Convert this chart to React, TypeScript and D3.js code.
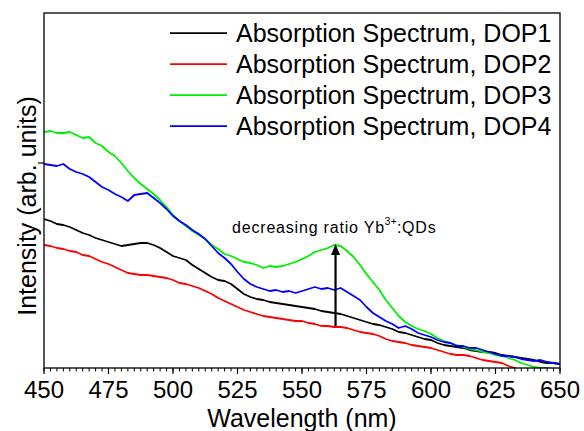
import React from "react";
import * as d3 from "d3";

// ---------- data ----------
const WAVELENGTHS: number[] = d3.range(0, 81).map((i) => 450 + i * 2.5);

const DOP1: number[] = [
  149, 147, 144, 143, 141, 138, 135, 133, 130, 128, 126, 124, 122, 123, 124, 125, 125, 123, 120, 116,
  112, 110, 108, 103, 99, 95, 91, 88, 87, 84, 79, 74, 71, 69, 68, 66, 65, 64, 63, 62,
  61, 60, 59, 57, 56, 55, 54, 52, 50, 48, 46, 44, 43, 41, 39, 36, 35, 33, 31, 29,
  28, 25, 23, 22, 21, 20, 18, 17, 16, 16, 15, 13, 12, 11, 10, 9, 8, 6, 5, 5, 4,
];
const DOP2: number[] = [
  123, 122, 120, 119, 117, 116, 113, 112, 109, 106, 104, 101, 98, 95, 94, 93, 93, 92, 91, 90,
  88, 85, 84, 82, 80, 77, 74, 70, 67, 64, 61, 58, 56, 54, 52, 51, 50, 49, 48, 47,
  47, 45, 44, 42, 42, 41, 41, 40, 38, 36, 35, 34, 32, 29, 27, 26, 25, 23, 22, 21,
  20, 18, 16, 14, 13, 13, 12, 10, 8, 7, 6, 5, 2, 0, -2, -3, -4,
];
const DOP3: number[] = [
  236, 237, 235, 235, 236, 233, 230, 231, 225, 222, 216, 212, 205, 197, 190, 184, 179, 174, 168, 161,
  153, 147, 142, 137, 133, 129, 123, 119, 114, 112, 109, 106, 105, 103, 100, 102, 101, 102, 104, 106,
  109, 112, 116, 118, 120, 123, 122, 117, 111, 103, 94, 86, 78, 68, 60, 52, 46, 42, 39, 37,
  34, 30, 27, 25, 23, 21, 19, 18, 16, 15, 13, 12, 10, 8, 5, 3, 1, 0, 0, -1, -1,
];
const DOP4: number[] = [
  204, 203, 202, 204, 199, 196, 194, 191, 186, 181, 178, 174, 171, 167, 173, 174, 175, 170, 165, 159,
  152, 147, 143, 138, 134, 129, 122, 115, 110, 104, 96, 89, 84, 81, 79, 77, 78, 76, 77, 75,
  77, 79, 81, 79, 80, 78, 80, 76, 72, 68, 61, 55, 51, 47, 44, 40, 42, 39, 35, 33,
  31, 28, 26, 25, 22, 22, 20, 20, 18, 16, 14, 12, 12, 11, 9, 8, 7, 8, 6, 5, 4,
];

const SERIES_NAMES: string[] = [
  "Absorption Spectrum, DOP1",
  "Absorption Spectrum, DOP2",
  "Absorption Spectrum, DOP3",
  "Absorption Spectrum, DOP4",
];
const SERIES_VALUES: number[][] = [DOP1, DOP2, DOP3, DOP4];
const SERIES_COLORS: string[] = ["#000000", "#ff0000", "#00ee00", "#0000ff"];

const X_TICKS: number[] = [450, 475, 500, 525, 550, 575, 600, 625, 650];
const X_MINOR: number[] = d3.range(0, 81).map((i) => 450 + i * 2.5);
const Y_TICKS: number[] = [205];

const ARROW_X = 563;
const ARROW_FROM = 42;
const ARROW_TO = 124;
const ANNOT_X = 522.9;
const ANNOT_Y = 135;

// ---------- layout ----------
const W = 584;
const H = 431;
const M = { left: 44, right: 24, top: 13, bottom: 63 };
const FONT = "'Liberation Sans', Arial, Helvetica, sans-serif";

export default function App() {
  const x = d3.scaleLinear().domain([450, 650]).range([M.left, W - M.right]);
  const y = d3.scaleLinear().domain([0, 355]).range([H - M.bottom, M.top]);
  const line = d3
    .line<[number, number]>()
    .x((d) => x(d[0]))
    .y((d) => y(d[1]));

  const x0 = M.left;
  const x1 = W - M.right;
  const y0 = H - M.bottom;
  const y1 = M.top;

  return (
    <svg
      width={W}
      height={H}
      style={{ position: "absolute", left: 0, top: 0, background: "#fff" }}
      fontFamily={FONT}
    >
      <defs>
        <clipPath id="plot">
          <rect x={x0} y={y1} width={x1 - x0} height={y0 - y1} />
        </clipPath>
      </defs>

      <g clipPath="url(#plot)">
        {SERIES_VALUES.map((vals, si) => {
          const pts: [number, number][] = vals.map((v, i) => [WAVELENGTHS[i], v]);
          return (
            <path
              key={si}
              d={line(pts) || ""}
              fill="none"
              stroke={SERIES_COLORS[si]}
              strokeWidth={1.8}
              strokeLinejoin="round"
            />
          );
        })}
      </g>

      {/* frame */}
      <rect x={x0} y={y1} width={x1 - x0} height={y0 - y1} fill="none" stroke="#000" strokeWidth={1.3} />

      {/* x ticks */}
      {X_MINOR.map((t, i) => (
        <line key={"m" + i} x1={x(t)} x2={x(t)} y1={y0} y2={y0 + 3.5} stroke="#000" strokeWidth={1} />
      ))}
      {X_TICKS.map((t) => (
        <g key={t}>
          <line x1={x(t)} x2={x(t)} y1={y0} y2={y0 + 6} stroke="#000" strokeWidth={1.2} />
          <text x={x(t)} y={398} textAnchor="middle" fontSize={24} fill="#000">
            {t}
          </text>
        </g>
      ))}
      {/* y ticks */}
      {Y_TICKS.map((t) => (
        <line key={t} x1={x0 - 6} x2={x0} y1={y(t)} y2={y(t)} stroke="#000" strokeWidth={1.2} />
      ))}

      {/* axis titles */}
      <text x={(x0 + x1) / 2} y={427} textAnchor="middle" fontSize={25} fill="#000">
        Wavelength (nm)
      </text>
      <text
        transform={`translate(36, 206) rotate(-90)`}
        textAnchor="middle"
        fontSize={25}
        fill="#000"
      >
        Intensity (arb. units)
      </text>

      {/* legend */}
      {SERIES_NAMES.map((name, i) => {
        const by = 41.7 + i * 31;
        return (
          <g key={name}>
            <line x1={170} x2={227} y1={by - 8.5} y2={by - 8.5} stroke={SERIES_COLORS[i]} strokeWidth={1.8} />
            <text x={236} y={by} fontSize={25} fill="#000">
              {name}
            </text>
          </g>
        );
      })}

      {/* annotation */}
      <line
        x1={x(ARROW_X)}
        x2={x(ARROW_X)}
        y1={y(ARROW_FROM)}
        y2={y(ARROW_TO) + 9}
        stroke="#000"
        strokeWidth={2.2}
      />
      <path
        d={`M${x(ARROW_X)},${y(ARROW_TO)} L${x(ARROW_X) - 4.5},${y(ARROW_TO) + 11} L${x(ARROW_X) + 4.5},${y(ARROW_TO) + 11} Z`}
        fill="#000"
      />
      <text x={x(ANNOT_X)} y={y(ANNOT_Y)} fontSize={16} fill="#000" letterSpacing={0.8}>
        decreasing ratio Yb
        <tspan dy={-8} fontSize={10} letterSpacing={0.3}>
          3+
        </tspan>
        <tspan dy={8}>:QDs</tspan>
      </text>
    </svg>
  );
}
